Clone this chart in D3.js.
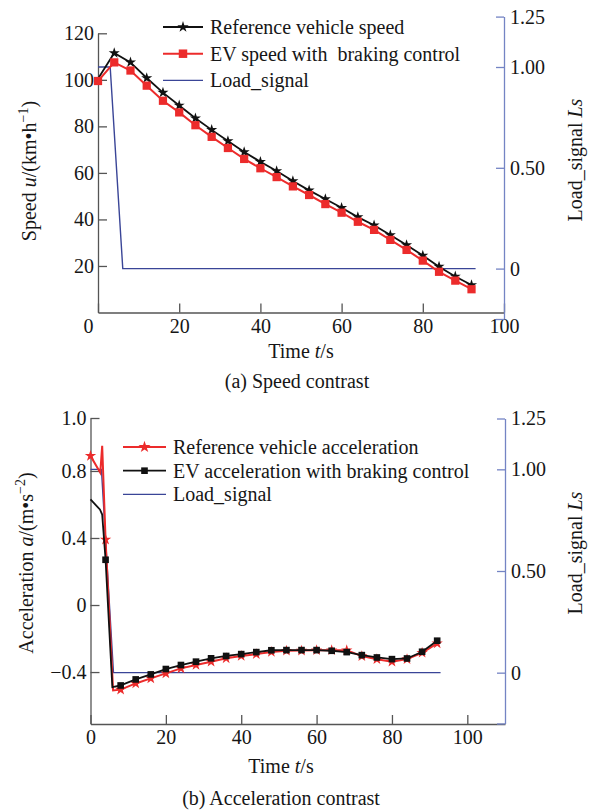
<!DOCTYPE html>
<html>
<head>
<meta charset="utf-8">
<script src="https://cdn.jsdelivr.net/npm/d3@7"></script>
<style>
body { margin: 0; background: #fff; }
svg text { font-family: "Liberation Serif", "Times New Roman", Times, serif; fill: #161616; }
</style>
</head>
<body>
<svg width="592" height="812"></svg>
<script>
const svg = d3.select('svg')

// ---------- data
const speedTime = [0, 4, 8, 12, 16, 20, 24, 28, 32, 36, 40, 44, 48, 52, 56, 60, 64, 68, 72, 76, 80, 84, 88, 92]
const refSpeed = [100.5, 111.5, 107.5, 100.8, 94.5, 89, 83.5, 78.5, 73.7, 69, 64.8, 60.8, 56.5, 52.5, 48.8, 45, 41, 37.5, 33.3, 29, 24.5, 19.7, 15.5, 11.8]
const evSpeed = [99.5, 107.5, 104, 97.5, 91, 86, 80.5, 75.5, 70.7, 66, 62, 58.2, 54.2, 50.5, 46.6, 42.9, 39, 35.5, 31.2, 26.9, 22.3, 17.5, 13.7, 10]

const refAccTime = [0, 2.6, 3.1, 4, 6, 8, 12, 16, 20, 24, 28, 32, 36, 40, 44, 48, 52, 56, 60, 64, 68, 72, 76, 80, 84, 88, 92]
const refAcc = [0.89, 0.79, 0.95, 0.39, -0.51, -0.505, -0.468, -0.438, -0.408, -0.378, -0.358, -0.338, -0.318, -0.304, -0.293, -0.28, -0.273, -0.272, -0.27, -0.27, -0.27, -0.305, -0.323, -0.338, -0.323, -0.285, -0.229]
const evAccTime = [0, 2.5, 3.1, 4, 5.8, 8, 12, 16, 20, 24, 28, 32, 36, 40, 44, 48, 52, 56, 60, 64, 68, 72, 76, 80, 84, 88, 92]
const evAcc = [0.63, 0.57, 0.54, 0.27, -0.49, -0.48, -0.444, -0.414, -0.382, -0.358, -0.338, -0.318, -0.304, -0.293, -0.281, -0.27, -0.269, -0.269, -0.269, -0.273, -0.281, -0.299, -0.313, -0.323, -0.319, -0.279, -0.213]

const signalTimeA = [0, 3, 6.1, 93]
const signalTimeB = [0, 2.9, 6.1, 92.9]
const signalValue = [1, 1, 0, 0]

const timeTicks = [0, 20, 40, 60, 80, 100]
const speedTicks = [20, 40, 60, 80, 100, 120]
const accTicks = [-0.4, 0, 0.4, 0.8, 1.116]
const accTickLabels = ['\u22120.4', '0', '0.4', '0.8', '1.0']
const signalTicks = [-0.25, 0, 0.5, 1, 1.25]
const signalTickLabels = ['', '0', '0.50', '1.00', '1.25']

const RED = '#ec2b2b'
const BLACK = '#111'
const BLUE = '#3a4597'
const AXIS_BLUE = '#7484c4'
const AXIS_GRAY = '#555'
const FS = 20

const zip = (t, v) => t.map((d, i) => ({ t: d, v: v[i] }))

const styleAxis = (sel, color) => {
    sel.attr('font-size', FS).attr('font-family', null)
    sel.select('.domain').attr('stroke', color).attr('stroke-width', 1.3)
    sel.selectAll('.tick line').attr('stroke', color).attr('stroke-width', 1.3)
    sel.selectAll('.tick text').attr('fill', '#161616')
}

const drawPanel = p => {
    const g = svg.append('g')
    const x = d3.scaleLinear().domain(p.xDomain).range(p.xRange)
    const y = d3.scaleLinear().domain(p.yDomain).range(p.yRange)
    const yR = d3.scaleLinear().domain([-0.25, 1.25]).range(p.rRange)

    // bottom axis
    const xa = g.append('g')
        .attr('transform', `translate(0,${p.yRange[0]})`)
        .call(d3.axisBottom(x).tickValues(timeTicks).tickFormat(d3.format('d'))
            .tickSizeInner(-9).tickSizeOuter(0).tickPadding(6))
    styleAxis(xa, AXIS_GRAY)
    xa.selectAll('.tick text').filter(d => d === 0).attr('dx', p.zeroShift)

    // left axis
    const ya = g.append('g')
        .attr('transform', `translate(${p.xRange[0]},0)`)
        .call(d3.axisLeft(y).tickValues(p.yTicks).tickFormat((d, i) => p.yLabels[i])
            .tickSizeInner(-9).tickSizeOuter(0).tickPadding(4))
    styleAxis(ya, AXIS_GRAY)

    // right axis (Load_signal)
    const ra = g.append('g')
        .attr('transform', `translate(${p.xRange[1]},0)`)
        .call(d3.axisRight(yR).tickValues(signalTicks).tickFormat((d, i) => signalTickLabels[i])
            .tickSizeInner(-8).tickSizeOuter(0).tickPadding(6))
    styleAxis(ra, AXIS_BLUE)

    const line = d3.line().x(d => x(d.t)).y(d => y(d.v))
    const sigLine = d3.line().x(d => x(d.t)).y(d => yR(d.v))

    g.append('path')
        .datum(zip(p.sigTime, signalValue))
        .attr('d', sigLine)
        .attr('fill', 'none').attr('stroke', BLUE).attr('stroke-width', 1.4)

    p.series.forEach(s => {
        const data = zip(s.time, s.values)
        g.append('path')
            .datum(data)
            .attr('d', line)
            .attr('fill', 'none').attr('stroke', s.color).attr('stroke-width', s.width)
        g.selectAll(null)
            .data(data.filter(d => d.t % 4 === 0 && d.t >= s.markFrom))
            .enter()
            .append('path')
            .attr('transform', d => `translate(${x(d.t)},${y(d.v)})`)
            .attr('d', d3.symbol(s.symbol, s.size))
            .attr('fill', s.color)
    })

    // legend
    const lg = g.append('g')
    p.legend.forEach((it, i) => {
        const yy = p.legendY + i * p.legendDy
        lg.append('line')
            .attr('x1', p.legendX).attr('x2', p.legendX + p.legendLen)
            .attr('y1', yy).attr('y2', yy)
            .attr('stroke', it.color).attr('stroke-width', it.width)
        if (it.symbol) {
            lg.append('path')
                .attr('transform', `translate(${p.legendX + p.legendLen / 2},${yy})`)
                .attr('d', d3.symbol(it.symbol, it.size))
                .attr('fill', it.color)
        }
        lg.append('text')
            .attr('x', p.legendX + p.legendLen + 7).attr('y', yy)
            .attr('dy', '0.35em')
            .attr('font-size', FS)
            .text(it.label)
    })

    // axis titles
    const xt = g.append('text')
        .attr('x', p.xTitle[0]).attr('y', p.xTitle[1])
        .attr('text-anchor', 'middle').attr('font-size', FS)
    xt.append('tspan').text('Time ')
    xt.append('tspan').attr('font-style', 'italic').text('t')
    xt.append('tspan').text('/s')

    const lt = g.append('text')
        .attr('transform', `translate(${p.yTitle[0]},${p.yTitle[1]}) rotate(-90)`)
        .attr('text-anchor', 'middle').attr('font-size', FS)
    lt.append('tspan').text(p.yTitleText[0] + ' ')
    lt.append('tspan').attr('font-style', 'italic').text(p.yTitleText[1])
    lt.append('tspan').text(p.yTitleText[2])
    lt.append('tspan').attr('font-size', 14).attr('dy', -8).text(p.yTitleText[3])
    lt.append('tspan').attr('dy', 8).text(')')

    const rt = g.append('text')
        .attr('transform', `translate(${p.rTitle[0]},${p.rTitle[1]}) rotate(-90)`)
        .attr('text-anchor', 'middle').attr('font-size', FS)
    rt.append('tspan').text('Load_signal ')
    rt.append('tspan').attr('font-style', 'italic').text('Ls')

    g.append('text')
        .attr('x', p.caption[0]).attr('y', p.caption[1])
        .attr('text-anchor', 'middle').attr('font-size', FS)
        .text(p.captionText)
}

// ---------- (a) speed
drawPanel({
    xDomain: [0, 100], xRange: [98, 504],
    yDomain: [0, 120], yRange: [312.5, 33.3],
    rRange: [319, 16.6],
    yTicks: speedTicks, yLabels: speedTicks.map(String),
    zeroShift: -10,
    sigTime: signalTimeA,
    series: [
        { time: speedTime, values: refSpeed, color: BLACK, width: 1.8, symbol: d3.symbolStar, size: 38, markFrom: 4 },
        { time: speedTime, values: evSpeed, color: RED, width: 2, symbol: d3.symbolSquare, size: 68, markFrom: 0 }
    ],
    legend: [
        { label: 'Reference vehicle speed', color: BLACK, width: 1.8, symbol: d3.symbolStar, size: 40 },
        { label: 'EV speed with \u00a0braking control', color: RED, width: 2, symbol: d3.symbolSquare, size: 72 },
        { label: 'Load_signal', color: BLUE, width: 1.4 }
    ],
    legendX: 163, legendY: 27, legendDy: 26.7, legendLen: 40,
    xTitle: [301, 358],
    yTitle: [36, 171], yTitleText: ['Speed', 'u', '/(km\u2022h', '\u22121'],
    rTitle: [582, 160],
    caption: [297, 388], captionText: '(a) Speed contrast'
})

// ---------- (b) acceleration
drawPanel({
    xDomain: [0, 110], xRange: [90.5, 505],
    yDomain: [-0.71, 1.116], yRange: [724, 418],
    rRange: [723.5, 418.5],
    yTicks: accTicks, yLabels: accTickLabels,
    zeroShift: 0,
    sigTime: signalTimeB,
    series: [
        { time: refAccTime, values: refAcc, color: RED, width: 2, symbol: d3.symbolStar, size: 40, markFrom: 0 },
        { time: evAccTime, values: evAcc, color: BLACK, width: 1.8, symbol: d3.symbolSquare, size: 44, markFrom: 4 }
    ],
    legend: [
        { label: 'Reference vehicle acceleration', color: RED, width: 2, symbol: d3.symbolStar, size: 45 },
        { label: 'EV acceleration with braking control', color: BLACK, width: 1.8, symbol: d3.symbolSquare, size: 44 },
        { label: 'Load_signal', color: BLUE, width: 1.4 }
    ],
    legendX: 123, legendY: 447, legendDy: 23.7, legendLen: 43,
    xTitle: [281, 773],
    yTitle: [33, 563], yTitleText: ['Acceleration', 'a', '/(m\u2022s', '\u22122'],
    rTitle: [582, 553],
    caption: [281, 805], captionText: '(b) Acceleration contrast'
})
</script>
</body>
</html>
